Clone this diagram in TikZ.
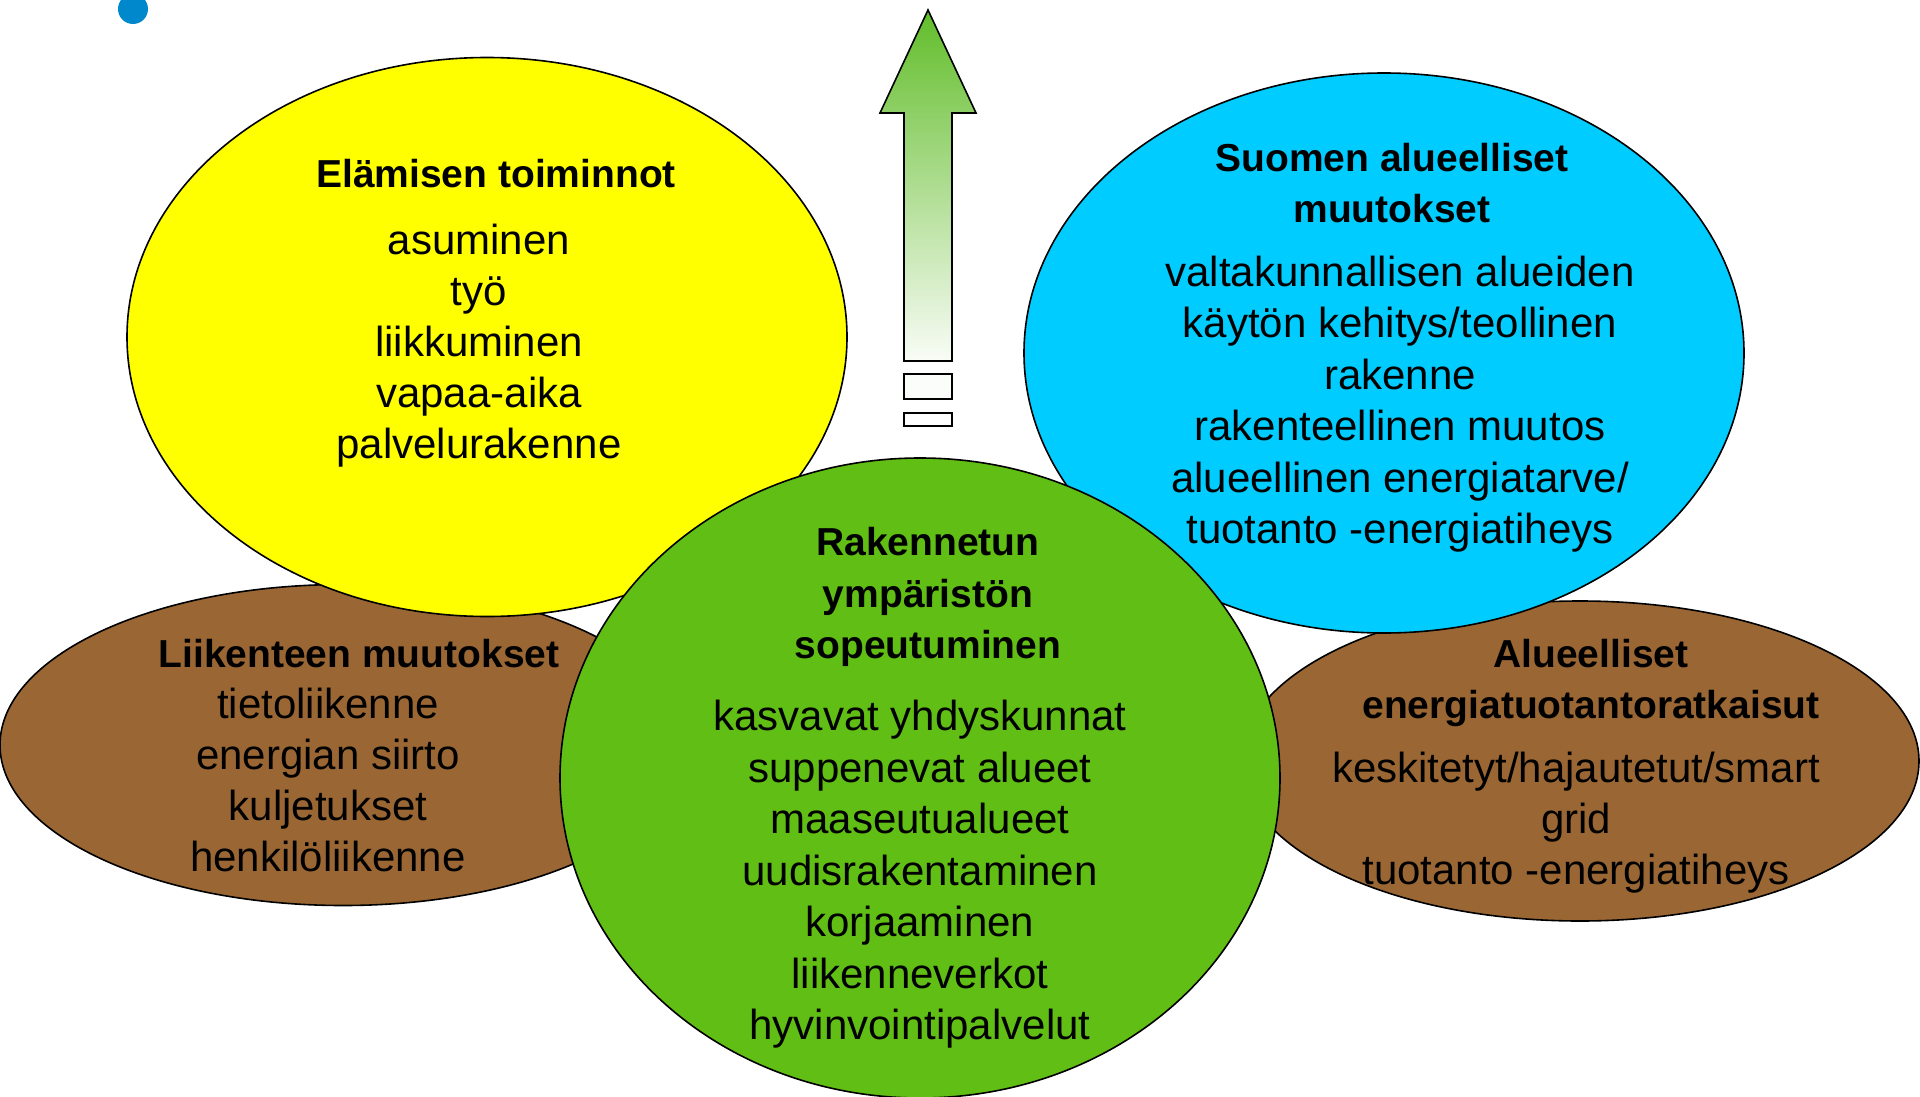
\documentclass[tikz,border=0pt]{standalone}
\usepackage{fontspec}
\setmainfont{Liberation Sans}
\usetikzlibrary{shapes.geometric}
\definecolor{yel}{HTML}{FFFF00}
\definecolor{sky}{HTML}{00CCFF}
\definecolor{grn}{HTML}{60BE14}
\definecolor{brn}{HTML}{9A6734}
\definecolor{dot}{HTML}{0088CC}
\definecolor{arrg}{HTML}{62BD2A}
\tikzset{
  blob/.style={ellipse, draw=black, line width=1.6pt, inner sep=0pt},
  body/.style={font=\fontsize{42}{51}\selectfont, text height=31.5pt, text depth=10.5pt, inner sep=0pt, anchor=center},
  head/.style={font=\fontsize{39}{51}\bfseries\selectfont, text height=29pt, text depth=10pt, inner sep=0pt, anchor=center},
}
\begin{document}
\begin{tikzpicture}[x=1pt,y=-1pt]
\useasboundingbox (0,0) rectangle (1920,1097);
% blue dot
\fill[dot] (133,9) circle (15);
% brown ellipses (bottom layer)
\node[blob, fill=brn, minimum width=686pt, minimum height=321pt] (lb) at (343,745) {};
\node[blob, fill=brn, minimum width=678pt, minimum height=320pt] (rb) at (1580,761) {};
% yellow and blue
\node[blob, fill=yel, minimum width=720pt, minimum height=559pt] (ye) at (487,337) {};
\node[blob, fill=sky, minimum width=720pt, minimum height=560pt] (bl) at (1384,353) {};
% green on top
\node[blob, fill=grn, minimum width=720pt, minimum height=640pt] (gr) at (920,778) {};
% arrow
\shade[top color=arrg, bottom color=arrg!4, draw=black, line width=1.6pt, line join=miter]
  (928,10) -- (976,113) -- (952,113) -- (952,361) -- (904,361) -- (904,113) -- (880,113) -- cycle;
\draw[fill=arrg!3, line width=1.6pt] (904,374) rectangle (952,399);
\draw[fill=white, line width=1.6pt] (904,413) rectangle (952,426);
% yellow text
\node[head] (yh) at (496,178) {Elämisen toiminnot};
\foreach \t [count=\i] in {asuminen, työ, liikkuminen, vapaa-aika, palvelurakenne}
  \node[body] (yt\i) at (479,{244+51*(\i-1)}) {\t};
% blue text
\node[head] (bh1) at (1392,162) {Suomen alueelliset};
\node[head] (bh2) at (1392,213) {muutokset};
\foreach \t [count=\i] in {valtakunnallisen alueiden, käytön kehitys/teollinen, rakenne, rakenteellinen muutos, alueellinen energiatarve/, tuotanto -energiatiheys}
  \node[body] (bt\i) at (1400,{276+51.4*(\i-1)}) {\t};
% green text
\node[head] (gh1) at (928,546) {Rakennetun};
\node[head] (gh2) at (928,598) {ympäristön};
\node[head] (gh3) at (928,649) {sopeutuminen};
\foreach \t [count=\i] in {kasvavat yhdyskunnat, suppenevat alueet, maaseutualueet, uudisrakentaminen, korjaaminen, liikenneverkot, hyvinvointipalvelut}
  \node[body] (gt\i) at (920,{720+51.5*(\i-1)}) {\t};
% left brown text
\node[head] (lh) at (359,658) {Liikenteen muutokset};
\foreach \t [count=\i] in {tietoliikenne, energian siirto, kuljetukset, henkilöliikenne}
  \node[body] (lt\i) at (328,{708+51*(\i-1)}) {\t};
% right brown text
\node[head] (rh1) at (1591,658) {Alueelliset};
\node[head] (rh2) at (1591,709) {energiatuotantoratkaisut};
\foreach \t [count=\i] in {keskitetyt/hajautetut/smart, grid, tuotanto -energiatiheys}
  \node[body] (rt\i) at (1576,{772+51*(\i-1)}) {\t};
\end{tikzpicture}
\end{document}
